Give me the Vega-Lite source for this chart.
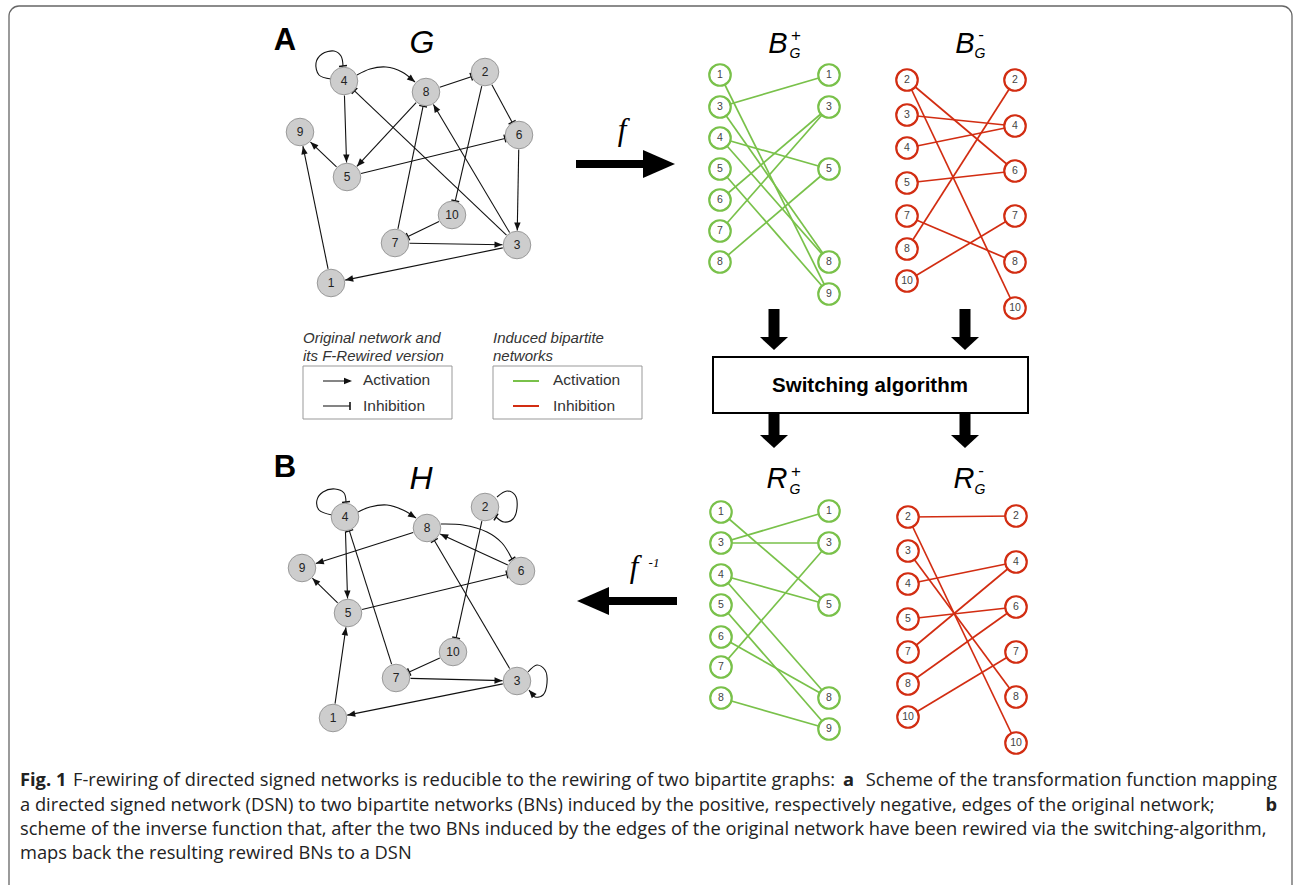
{
 "$schema": "https://vega.github.io/schema/vega-lite/v6.json",
 "width": 1294, "height": 885,
 "autosize": {"type": "fit", "contains": "padding"},
 "padding": 0,
 "background": "white",
 "config": {"view": {"stroke": null}},
 "datasets": {
  "nodes": [
   {"id":"G1","x":331,"y":283,"label":"1","kind":"net"},
   {"id":"G2","x":485,"y":72,"label":"2","kind":"net"},
   {"id":"G3","x":517,"y":245,"label":"3","kind":"net"},
   {"id":"G4","x":344,"y":81,"label":"4","kind":"net"},
   {"id":"G5","x":347,"y":177,"label":"5","kind":"net"},
   {"id":"G6","x":519,"y":135,"label":"6","kind":"net"},
   {"id":"G7","x":395,"y":243,"label":"7","kind":"net"},
   {"id":"G8","x":426,"y":92,"label":"8","kind":"net"},
   {"id":"G9","x":300,"y":132,"label":"9","kind":"net"},
   {"id":"G10","x":452,"y":215,"label":"10","kind":"net"},
   {"id":"H1","x":333,"y":718,"label":"1","kind":"net"},
   {"id":"H2","x":485,"y":507,"label":"2","kind":"net"},
   {"id":"H3","x":517,"y":681,"label":"3","kind":"net"},
   {"id":"H4","x":345,"y":517,"label":"4","kind":"net"},
   {"id":"H5","x":348,"y":613,"label":"5","kind":"net"},
   {"id":"H6","x":521,"y":571,"label":"6","kind":"net"},
   {"id":"H7","x":396,"y":678,"label":"7","kind":"net"},
   {"id":"H8","x":427,"y":528,"label":"8","kind":"net"},
   {"id":"H9","x":302,"y":568,"label":"9","kind":"net"},
   {"id":"H10","x":453,"y":652,"label":"10","kind":"net"},
   {"id":"BpL1","x":720,"y":75,"label":"1","kind":"pos"},
   {"id":"BpL3","x":720,"y":107,"label":"3","kind":"pos"},
   {"id":"BpL4","x":720,"y":138,"label":"4","kind":"pos"},
   {"id":"BpL5","x":720,"y":169,"label":"5","kind":"pos"},
   {"id":"BpL6","x":720,"y":200,"label":"6","kind":"pos"},
   {"id":"BpL7","x":720,"y":231,"label":"7","kind":"pos"},
   {"id":"BpL8","x":720,"y":262,"label":"8","kind":"pos"},
   {"id":"BpR1","x":829,"y":75,"label":"1","kind":"pos"},
   {"id":"BpR3","x":829,"y":107,"label":"3","kind":"pos"},
   {"id":"BpR5","x":829,"y":169,"label":"5","kind":"pos"},
   {"id":"BpR8","x":829,"y":262,"label":"8","kind":"pos"},
   {"id":"BpR9","x":829,"y":294,"label":"9","kind":"pos"},
   {"id":"BnL2","x":907,"y":80,"label":"2","kind":"neg"},
   {"id":"BnL3","x":907,"y":115,"label":"3","kind":"neg"},
   {"id":"BnL4","x":907,"y":148,"label":"4","kind":"neg"},
   {"id":"BnL5","x":907,"y":183,"label":"5","kind":"neg"},
   {"id":"BnL7","x":907,"y":216,"label":"7","kind":"neg"},
   {"id":"BnL8","x":907,"y":249,"label":"8","kind":"neg"},
   {"id":"BnL10","x":907,"y":281,"label":"10","kind":"neg"},
   {"id":"BnR2","x":1015,"y":80,"label":"2","kind":"neg"},
   {"id":"BnR4","x":1015,"y":126,"label":"4","kind":"neg"},
   {"id":"BnR6","x":1015,"y":171,"label":"6","kind":"neg"},
   {"id":"BnR7","x":1015,"y":216,"label":"7","kind":"neg"},
   {"id":"BnR8","x":1015,"y":262,"label":"8","kind":"neg"},
   {"id":"BnR10","x":1015,"y":308,"label":"10","kind":"neg"},
   {"id":"RpL1","x":721,"y":512,"label":"1","kind":"pos"},
   {"id":"RpL3","x":721,"y":543,"label":"3","kind":"pos"},
   {"id":"RpL4","x":721,"y":575,"label":"4","kind":"pos"},
   {"id":"RpL5","x":721,"y":605,"label":"5","kind":"pos"},
   {"id":"RpL6","x":721,"y":637,"label":"6","kind":"pos"},
   {"id":"RpL7","x":721,"y":667,"label":"7","kind":"pos"},
   {"id":"RpL8","x":721,"y":698,"label":"8","kind":"pos"},
   {"id":"RpR1","x":829,"y":511,"label":"1","kind":"pos"},
   {"id":"RpR3","x":829,"y":543,"label":"3","kind":"pos"},
   {"id":"RpR5","x":829,"y":605,"label":"5","kind":"pos"},
   {"id":"RpR8","x":829,"y":698,"label":"8","kind":"pos"},
   {"id":"RpR9","x":829,"y":729,"label":"9","kind":"pos"},
   {"id":"RnL2","x":908,"y":517,"label":"2","kind":"neg"},
   {"id":"RnL3","x":908,"y":551,"label":"3","kind":"neg"},
   {"id":"RnL4","x":908,"y":584,"label":"4","kind":"neg"},
   {"id":"RnL5","x":908,"y":619,"label":"5","kind":"neg"},
   {"id":"RnL7","x":908,"y":652,"label":"7","kind":"neg"},
   {"id":"RnL8","x":908,"y":684,"label":"8","kind":"neg"},
   {"id":"RnL10","x":908,"y":717,"label":"10","kind":"neg"},
   {"id":"RnR2","x":1016,"y":516,"label":"2","kind":"neg"},
   {"id":"RnR4","x":1016,"y":562,"label":"4","kind":"neg"},
   {"id":"RnR6","x":1016,"y":607,"label":"6","kind":"neg"},
   {"id":"RnR7","x":1016,"y":652,"label":"7","kind":"neg"},
   {"id":"RnR8","x":1016,"y":697,"label":"8","kind":"neg"},
   {"id":"RnR10","x":1016,"y":743,"label":"10","kind":"neg"}
  ],
  "edges": [
   {"s":"G4","t":"G5","kind":"act"},{"s":"G8","t":"G5","kind":"act"},{"s":"G5","t":"G9","kind":"act"},
   {"s":"G6","t":"G3","kind":"act"},{"s":"G7","t":"G3","kind":"act"},{"s":"G3","t":"G1","kind":"act"},
   {"s":"G1","t":"G9","kind":"act"},{"s":"G3","t":"G8","kind":"act"},
   {"s":"G8","t":"G2","kind":"inh"},{"s":"G2","t":"G6","kind":"inh"},{"s":"G2","t":"G10","kind":"inh"},
   {"s":"G5","t":"G6","kind":"inh"},{"s":"G3","t":"G4","kind":"inh"},{"s":"G7","t":"G8","kind":"inh"},
   {"s":"G10","t":"G7","kind":"inh"},
   {"s":"H4","t":"H5","kind":"act"},{"s":"H8","t":"H9","kind":"act"},{"s":"H5","t":"H9","kind":"act"},
   {"s":"H6","t":"H8","kind":"act"},{"s":"H7","t":"H3","kind":"act"},{"s":"H3","t":"H1","kind":"act"},
   {"s":"H1","t":"H5","kind":"act"},
   {"s":"H2","t":"H10","kind":"inh"},{"s":"H5","t":"H6","kind":"inh"},{"s":"H7","t":"H4","kind":"inh"},
   {"s":"H3","t":"H8","kind":"inh"},{"s":"H10","t":"H7","kind":"inh"},
   {"s":"BpL1","t":"BpR9","kind":"pos"},{"s":"BpL3","t":"BpR1","kind":"pos"},{"s":"BpL3","t":"BpR8","kind":"pos"},
   {"s":"BpL4","t":"BpR5","kind":"pos"},{"s":"BpL4","t":"BpR8","kind":"pos"},{"s":"BpL5","t":"BpR9","kind":"pos"},
   {"s":"BpL6","t":"BpR3","kind":"pos"},{"s":"BpL7","t":"BpR3","kind":"pos"},{"s":"BpL8","t":"BpR5","kind":"pos"},
   {"s":"BnL2","t":"BnR6","kind":"neg"},{"s":"BnL2","t":"BnR10","kind":"neg"},{"s":"BnL3","t":"BnR4","kind":"neg"},
   {"s":"BnL4","t":"BnR4","kind":"neg"},{"s":"BnL5","t":"BnR6","kind":"neg"},{"s":"BnL7","t":"BnR8","kind":"neg"},
   {"s":"BnL8","t":"BnR2","kind":"neg"},{"s":"BnL10","t":"BnR7","kind":"neg"},
   {"s":"RpL1","t":"RpR5","kind":"pos"},{"s":"RpL3","t":"RpR1","kind":"pos"},{"s":"RpL3","t":"RpR3","kind":"pos"},
   {"s":"RpL4","t":"RpR5","kind":"pos"},{"s":"RpL4","t":"RpR8","kind":"pos"},{"s":"RpL5","t":"RpR9","kind":"pos"},
   {"s":"RpL6","t":"RpR8","kind":"pos"},{"s":"RpL7","t":"RpR3","kind":"pos"},{"s":"RpL8","t":"RpR9","kind":"pos"},
   {"s":"RnL2","t":"RnR2","kind":"neg"},{"s":"RnL2","t":"RnR10","kind":"neg"},{"s":"RnL3","t":"RnR8","kind":"neg"},
   {"s":"RnL4","t":"RnR4","kind":"neg"},{"s":"RnL5","t":"RnR6","kind":"neg"},{"s":"RnL7","t":"RnR4","kind":"neg"},
   {"s":"RnL8","t":"RnR6","kind":"neg"},{"s":"RnL10","t":"RnR7","kind":"neg"}
  ],
  "curves": [
   {"c":"G4loop","o":1,"x":331,"y":79},{"c":"G4loop","o":2,"x":319,"y":75},{"c":"G4loop","o":3,"x":316,"y":63},
   {"c":"G4loop","o":4,"x":322,"y":54},{"c":"G4loop","o":5,"x":334,"y":51},{"c":"G4loop","o":6,"x":341,"y":56},
   {"c":"G4loop","o":7,"x":343,"y":66},
   {"c":"G48","o":1,"x":357,"y":75},{"c":"G48","o":2,"x":370,"y":69},{"c":"G48","o":3,"x":386,"y":67},
   {"c":"G48","o":4,"x":402,"y":72},{"c":"G48","o":5,"x":415,"y":82},
   {"c":"H4loop","o":1,"x":332,"y":515},{"c":"H4loop","o":2,"x":319,"y":510},{"c":"H4loop","o":3,"x":317,"y":500},
   {"c":"H4loop","o":4,"x":323,"y":492},{"c":"H4loop","o":5,"x":335,"y":489},{"c":"H4loop","o":6,"x":344,"y":493},
   {"c":"H4loop","o":7,"x":346,"y":502},
   {"c":"H48","o":1,"x":358,"y":512},{"c":"H48","o":2,"x":370,"y":507},{"c":"H48","o":3,"x":387,"y":505},
   {"c":"H48","o":4,"x":403,"y":510},{"c":"H48","o":5,"x":416,"y":518},
   {"c":"H86","o":1,"x":441,"y":524},{"c":"H86","o":2,"x":463,"y":525},{"c":"H86","o":3,"x":487,"y":532},
   {"c":"H86","o":4,"x":502,"y":543},{"c":"H86","o":5,"x":512,"y":559},
   {"c":"H2loop","o":1,"x":497,"y":497},{"c":"H2loop","o":2,"x":507,"y":491},{"c":"H2loop","o":3,"x":515,"y":495},
   {"c":"H2loop","o":4,"x":517,"y":508},{"c":"H2loop","o":5,"x":513,"y":519},{"c":"H2loop","o":6,"x":504,"y":522},
   {"c":"H2loop","o":7,"x":496,"y":517},
   {"c":"H3loop","o":1,"x":528,"y":672},{"c":"H3loop","o":2,"x":537,"y":665},{"c":"H3loop","o":3,"x":545,"y":670},
   {"c":"H3loop","o":4,"x":547,"y":683},{"c":"H3loop","o":5,"x":543,"y":695},{"c":"H3loop","o":6,"x":535,"y":697},
   {"c":"H3loop","o":7,"x":529,"y":690}
  ],
  "ends": [
   {"x":343,"y":66,"px":342,"py":57,"kind":"inh"},
   {"x":415,"y":82,"px":404,"py":73,"kind":"act"},
   {"x":346,"y":502,"px":345,"py":493,"kind":"inh"},
   {"x":416,"y":518,"px":405,"py":511,"kind":"act"},
   {"x":512,"y":559,"px":503,"py":545,"kind":"inh"},
   {"x":496,"y":517,"px":503,"py":521,"kind":"inh"},
   {"x":529,"y":690,"px":535,"py":697,"kind":"act"},
   {"x":352,"y":381,"px":340,"py":381,"kind":"act"},
   {"x":350,"y":406,"px":340,"py":406,"kind":"inh"}
  ],
  "segs": [
   {"x":323,"y":381,"x2":350,"y2":381,"kind":"blk"},
   {"x":323,"y":406,"x2":350,"y2":406,"kind":"blk"},
   {"x":513,"y":381,"x2":539,"y2":381,"kind":"pos"},
   {"x":513,"y":406,"x2":539,"y2":406,"kind":"neg"},
   {"x":576,"y":164,"x2":645,"y2":164,"kind":"hs"},
   {"x":607,"y":601,"x2":677,"y2":601,"kind":"hs"},
   {"x":774,"y":309,"x2":774,"y2":338,"kind":"vs"},
   {"x":965,"y":309,"x2":965,"y2":338,"kind":"vs"},
   {"x":774,"y":413,"x2":774,"y2":437,"kind":"vs"},
   {"x":965,"y":413,"x2":965,"y2":437,"kind":"vs"}
  ],
  "bigheads": [
   {"x":675,"y":164,"px":645,"py":164,"o":"h"},
   {"x":577,"y":601,"px":607,"py":601,"o":"h"},
   {"x":774,"y":350,"px":774,"py":338,"o":"v"},
   {"x":965,"y":350,"px":965,"py":338,"o":"v"},
   {"x":774,"y":448,"px":774,"py":437,"o":"v"},
   {"x":965,"y":448,"px":965,"py":437,"o":"v"}
  ],
  "boxes": [
   {"x":9,"y":6,"x2":1292,"y2":900,"b":"frame"},
   {"x":303,"y":366,"x2":452,"y2":419,"b":"leg"},
   {"x":493,"y":366,"x2":642,"y2":419,"b":"leg"},
   {"x":713,"y":357,"x2":1028,"y2":413,"b":"sw"}
  ],
  "texts": [
   {"t":"A","x":285,"y":50,"s":"panel"},
   {"t":"B","x":285,"y":477,"s":"panel"},
   {"t":"G","x":422,"y":53,"s":"ttl"},
   {"t":"H","x":421,"y":489,"s":"ttl"},
   {"t":"B","x":778,"y":53,"s":"bpm"},
   {"t":"B","x":965,"y":53,"s":"bpm"},
   {"t":"R","x":777,"y":488,"s":"bpm"},
   {"t":"R","x":964,"y":488,"s":"bpm"},
   {"t":"+","x":796,"y":36,"s":"bpsup"},
   {"t":"-","x":981,"y":35,"s":"bpsup"},
   {"t":"+","x":796,"y":472,"s":"bpsup"},
   {"t":"-","x":981,"y":471,"s":"bpsup"},
   {"t":"G","x":795,"y":58,"s":"bpsub"},
   {"t":"G","x":980,"y":58,"s":"bpsub"},
   {"t":"G","x":795,"y":494,"s":"bpsub"},
   {"t":"G","x":980,"y":494,"s":"bpsub"},
   {"t":"f","x":622,"y":140,"s":"fn"},
   {"t":"f","x":634,"y":577,"s":"fn"},
   {"t":"-1","x":654,"y":563,"s":"fsup"},
   {"t":"Switching algorithm","x":870,"y":392,"s":"sw"},
   {"t":"Original network and","x":303,"y":343,"s":"lh"},
   {"t":"its F-Rewired version","x":303,"y":361,"s":"lh"},
   {"t":"Induced bipartite","x":493,"y":343,"s":"lh"},
   {"t":"networks","x":493,"y":361,"s":"lh"},
   {"t":"Activation","x":363,"y":385,"s":"li"},
   {"t":"Inhibition","x":363,"y":411,"s":"li"},
   {"t":"Activation","x":553,"y":385,"s":"li"},
   {"t":"Inhibition","x":553,"y":411,"s":"li"},
   {"t":"Fig. 1","x":20,"y":781,"s":"capb"},
   {"t":"F-rewiring of directed signed networks is reducible to the rewiring of two bipartite graphs:","x":73,"y":781,"s":"cap"},
   {"t":"a","x":843,"y":781,"s":"capb"},
   {"t":"Scheme of the transformation function mapping","x":1277,"y":781,"s":"capr"},
   {"t":"a directed signed network (DSN) to two bipartite networks (BNs) induced by the positive, respectively negative, edges of the original network;","x":20,"y":806,"s":"cap"},
   {"t":"b","x":1277,"y":806,"s":"capbr"},
   {"t":"scheme of the inverse function that, after the two BNs induced by the edges of the original network have been rewired via the switching-algorithm,","x":20,"y":830,"s":"cap"},
   {"t":"maps back the resulting rewired BNs to a DSN","x":20,"y":854,"s":"cap"}
  ]
 },
 "encoding": {
  "x": {"field":"x","type":"quantitative","scale":{"domain":[0,1294],"nice":false,"zero":false},"axis":null},
  "y": {"field":"y","type":"quantitative","scale":{"domain":[0,885],"nice":false,"zero":false,"reverse":true},"axis":null}
 },
 "layer": [
  {"data":{"name":"boxes"},"transform":[{"filter":"datum.b==='frame'"}],
   "mark":{"type":"rect","filled":false,"color":"#666","strokeWidth":1.3,"cornerRadius":10,"clip":true},
   "encoding":{"x2":{"field":"x2"},"y2":{"field":"y2"}}},
  {"data":{"name":"boxes"},"transform":[{"filter":"datum.b==='leg'"}],
   "mark":{"type":"rect","filled":false,"color":"#999","strokeWidth":1},
   "encoding":{"x2":{"field":"x2"},"y2":{"field":"y2"}}},
  {"data":{"name":"boxes"},"transform":[{"filter":"datum.b==='sw'"}],
   "mark":{"type":"rect","fill":"white","stroke":"#000","strokeWidth":2},
   "encoding":{"x2":{"field":"x2"},"y2":{"field":"y2"}}},
  {"data":{"name":"edges"},
   "transform":[
    {"filter":"datum.kind==='act'||datum.kind==='inh'"},
    {"lookup":"s","from":{"data":{"name":"nodes"},"key":"id","fields":["x","y"]},"as":["sx","sy"]},
    {"lookup":"t","from":{"data":{"name":"nodes"},"key":"id","fields":["x","y"]},"as":["tx","ty"]},
    {"calculate":"sqrt(pow(datum.tx-datum.sx,2)+pow(datum.ty-datum.sy,2))","as":"d"},
    {"calculate":"(datum.tx-datum.sx)/datum.d","as":"ux"},
    {"calculate":"(datum.ty-datum.sy)/datum.d","as":"uy"},
    {"calculate":"datum.sx+14.5*datum.ux","as":"x"},
    {"calculate":"datum.sy+14.5*datum.uy","as":"y"},
    {"calculate":"datum.tx-14.5*datum.ux","as":"x2"},
    {"calculate":"datum.ty-14.5*datum.uy","as":"y2"}
   ],
   "mark":{"type":"rule","color":"#111","strokeWidth":1.1},
   "encoding":{"x2":{"field":"x2"},"y2":{"field":"y2"}}},
  {"data":{"name":"curves"},
   "mark":{"type":"line","interpolate":"catmull-rom","color":"#111","strokeWidth":1.1},
   "encoding":{"detail":{"field":"c"},"order":{"field":"o","type":"quantitative"}}},
  {"data":{"name":"segs"},"transform":[{"filter":"datum.kind==='blk'"}],
   "mark":{"type":"rule","color":"#333","strokeWidth":1.2},
   "encoding":{"x2":{"field":"x2"},"y2":{"field":"y2"}}},
  {"data":{"name":"edges"},
   "transform":[
    {"filter":"datum.kind==='pos'||datum.kind==='neg'"},
    {"lookup":"s","from":{"data":{"name":"nodes"},"key":"id","fields":["x","y"]},"as":["x","y"]},
    {"lookup":"t","from":{"data":{"name":"nodes"},"key":"id","fields":["x","y"]},"as":["x2","y2"]}
   ],
   "mark":{"type":"rule","strokeWidth":1.7},
   "encoding":{"x2":{"field":"x2"},"y2":{"field":"y2"},
    "color":{"field":"kind","type":"nominal","scale":{"domain":["pos","neg"],"range":["#79c14a","#d22d12"]},"legend":null}}},
  {"data":{"name":"segs"},"transform":[{"filter":"datum.kind==='pos'||datum.kind==='neg'"}],
   "mark":{"type":"rule","strokeWidth":2},
   "encoding":{"x2":{"field":"x2"},"y2":{"field":"y2"},
    "color":{"field":"kind","type":"nominal","scale":{"domain":["pos","neg"],"range":["#79c14a","#d22d12"]},"legend":null}}},
  {"data":{"name":"segs"},"transform":[{"filter":"datum.kind==='hs'"}],
   "mark":{"type":"rule","color":"#000","strokeWidth":8},
   "encoding":{"x2":{"field":"x2"},"y2":{"field":"y2"}}},
  {"data":{"name":"segs"},"transform":[{"filter":"datum.kind==='vs'"}],
   "mark":{"type":"rule","color":"#000","strokeWidth":11},
   "encoding":{"x2":{"field":"x2"},"y2":{"field":"y2"}}},
  {"data":{"name":"edges"},
   "transform":[
    {"filter":"datum.kind==='act'"},
    {"lookup":"s","from":{"data":{"name":"nodes"},"key":"id","fields":["x","y"]},"as":["sx","sy"]},
    {"lookup":"t","from":{"data":{"name":"nodes"},"key":"id","fields":["x","y"]},"as":["tx","ty"]},
    {"calculate":"sqrt(pow(datum.tx-datum.sx,2)+pow(datum.ty-datum.sy,2))","as":"d"},
    {"calculate":"(datum.tx-datum.sx)/datum.d","as":"ux"},
    {"calculate":"(datum.ty-datum.sy)/datum.d","as":"uy"},
    {"calculate":"datum.tx-14.5*datum.ux","as":"x"},
    {"calculate":"datum.ty-14.5*datum.uy","as":"y"},
    {"calculate":"atan2(datum.uy,datum.ux)*180/PI","as":"ang"}
   ],
   "mark":{"type":"point","shape":"M0,0L-2,-0.8L-2,0.8Z","size":64,"filled":true,"color":"#111","opacity":1,"strokeWidth":0},
   "encoding":{"angle":{"field":"ang","type":"quantitative","scale":null}}},
  {"data":{"name":"edges"},
   "transform":[
    {"filter":"datum.kind==='inh'"},
    {"lookup":"s","from":{"data":{"name":"nodes"},"key":"id","fields":["x","y"]},"as":["sx","sy"]},
    {"lookup":"t","from":{"data":{"name":"nodes"},"key":"id","fields":["x","y"]},"as":["tx","ty"]},
    {"calculate":"sqrt(pow(datum.tx-datum.sx,2)+pow(datum.ty-datum.sy,2))","as":"d"},
    {"calculate":"(datum.tx-datum.sx)/datum.d","as":"ux"},
    {"calculate":"(datum.ty-datum.sy)/datum.d","as":"uy"},
    {"calculate":"datum.tx-14.5*datum.ux","as":"x"},
    {"calculate":"datum.ty-14.5*datum.uy","as":"y"},
    {"calculate":"atan2(datum.uy,datum.ux)*180/PI","as":"ang"}
   ],
   "mark":{"type":"point","shape":"M0,-1L0,1","size":64,"filled":false,"color":"#111","opacity":1,"strokeWidth":1.4},
   "encoding":{"angle":{"field":"ang","type":"quantitative","scale":null}}},
  {"data":{"name":"ends"},
   "transform":[{"filter":"datum.kind==='act'"},{"calculate":"atan2(datum.y-datum.py,datum.x-datum.px)*180/PI","as":"ang"}],
   "mark":{"type":"point","shape":"M0,0L-2,-0.8L-2,0.8Z","size":64,"filled":true,"color":"#111","opacity":1,"strokeWidth":0},
   "encoding":{"angle":{"field":"ang","type":"quantitative","scale":null}}},
  {"data":{"name":"ends"},
   "transform":[{"filter":"datum.kind==='inh'"},{"calculate":"atan2(datum.y-datum.py,datum.x-datum.px)*180/PI","as":"ang"}],
   "mark":{"type":"point","shape":"M0,-1L0,1","size":64,"filled":false,"color":"#111","opacity":1,"strokeWidth":1.6},
   "encoding":{"angle":{"field":"ang","type":"quantitative","scale":null}}},
  {"data":{"name":"bigheads"},
   "transform":[{"filter":"datum.o==='h'"},{"calculate":"atan2(datum.y-datum.py,datum.x-datum.px)*180/PI","as":"ang"}],
   "mark":{"type":"point","shape":"M0,0L-2,-0.875L-2,0.875Z","size":1024,"filled":true,"color":"#000","opacity":1,"strokeWidth":0},
   "encoding":{"angle":{"field":"ang","type":"quantitative","scale":null}}},
  {"data":{"name":"bigheads"},
   "transform":[{"filter":"datum.o==='v'"},{"calculate":"atan2(datum.y-datum.py,datum.x-datum.px)*180/PI","as":"ang"}],
   "mark":{"type":"point","shape":"M0,0L-1,-1.08L-1,1.08Z","size":676,"filled":true,"color":"#000","opacity":1,"strokeWidth":0},
   "encoding":{"angle":{"field":"ang","type":"quantitative","scale":null}}},
  {"data":{"name":"nodes"},"transform":[{"filter":"datum.kind==='net'"}],
   "mark":{"type":"point","shape":"circle","size":760,"filled":true,"fill":"#cdcdcd","stroke":"#9a9a9a","strokeWidth":1,"opacity":1}},
  {"data":{"name":"nodes"},"transform":[{"filter":"datum.kind==='net'"}],
   "mark":{"type":"text","font":"Liberation Sans","fontSize":12,"align":"center","baseline":"middle","color":"#222"},
   "encoding":{"text":{"field":"label"}}},
  {"data":{"name":"nodes"},"transform":[{"filter":"datum.kind!=='net'"}],
   "mark":{"type":"point","shape":"circle","size":462,"filled":true,"fill":"white","strokeWidth":2.2,"opacity":1},
   "encoding":{"stroke":{"field":"kind","type":"nominal","scale":{"domain":["pos","neg"],"range":["#79c14a","#d22d12"]},"legend":null}}},
  {"data":{"name":"nodes"},"transform":[{"filter":"datum.kind!=='net'"}],
   "mark":{"type":"text","font":"Liberation Sans","fontSize":10.5,"align":"center","baseline":"middle","color":"#444"},
   "encoding":{"text":{"field":"label"}}},
  {"data":{"name":"texts"},"transform":[{"filter":"datum.s==='panel'"}],
   "mark":{"type":"text","font":"Liberation Sans","fontWeight":"bold","fontSize":31,"align":"center","baseline":"alphabetic","color":"#000"},
   "encoding":{"text":{"field":"t"}}},
  {"data":{"name":"texts"},"transform":[{"filter":"datum.s==='ttl'"}],
   "mark":{"type":"text","font":"Liberation Sans","fontStyle":"italic","fontSize":32,"align":"center","baseline":"alphabetic","color":"#000"},
   "encoding":{"text":{"field":"t"}}},
  {"data":{"name":"texts"},"transform":[{"filter":"datum.s==='bpm'"}],
   "mark":{"type":"text","font":"Liberation Sans","fontStyle":"italic","fontSize":29,"align":"center","baseline":"alphabetic","color":"#000"},
   "encoding":{"text":{"field":"t"}}},
  {"data":{"name":"texts"},"transform":[{"filter":"datum.s==='bpsup'"}],
   "mark":{"type":"text","font":"Liberation Sans","fontSize":17,"align":"center","baseline":"middle","color":"#000"},
   "encoding":{"text":{"field":"t"}}},
  {"data":{"name":"texts"},"transform":[{"filter":"datum.s==='bpsub'"}],
   "mark":{"type":"text","font":"Liberation Sans","fontStyle":"italic","fontSize":14,"align":"center","baseline":"alphabetic","color":"#000"},
   "encoding":{"text":{"field":"t"}}},
  {"data":{"name":"texts"},"transform":[{"filter":"datum.s==='fn'"}],
   "mark":{"type":"text","font":"Liberation Serif","fontStyle":"italic","fontSize":31,"align":"center","baseline":"alphabetic","color":"#000"},
   "encoding":{"text":{"field":"t"}}},
  {"data":{"name":"texts"},"transform":[{"filter":"datum.s==='fsup'"}],
   "mark":{"type":"text","font":"Liberation Serif","fontStyle":"italic","fontSize":13,"align":"center","baseline":"middle","color":"#000"},
   "encoding":{"text":{"field":"t"}}},
  {"data":{"name":"texts"},"transform":[{"filter":"datum.s==='sw'"}],
   "mark":{"type":"text","font":"Liberation Sans","fontWeight":"bold","fontSize":20.5,"align":"center","baseline":"alphabetic","color":"#000"},
   "encoding":{"text":{"field":"t"}}},
  {"data":{"name":"texts"},"transform":[{"filter":"datum.s==='lh'"}],
   "mark":{"type":"text","font":"Liberation Sans","fontStyle":"italic","fontSize":15,"align":"left","baseline":"alphabetic","color":"#333"},
   "encoding":{"text":{"field":"t"}}},
  {"data":{"name":"texts"},"transform":[{"filter":"datum.s==='li'"}],
   "mark":{"type":"text","font":"Liberation Sans","fontSize":15.5,"align":"left","baseline":"alphabetic","color":"#333"},
   "encoding":{"text":{"field":"t"}}},
  {"data":{"name":"texts"},"transform":[{"filter":"datum.s==='cap'"}],
   "mark":{"type":"text","font":"Open Sans","fontSize":18.3,"align":"left","baseline":"middle","color":"#222"},
   "encoding":{"text":{"field":"t"}}},
  {"data":{"name":"texts"},"transform":[{"filter":"datum.s==='capr'"}],
   "mark":{"type":"text","font":"Open Sans","fontSize":18.3,"align":"right","baseline":"middle","color":"#222"},
   "encoding":{"text":{"field":"t"}}},
  {"data":{"name":"texts"},"transform":[{"filter":"datum.s==='capb'"}],
   "mark":{"type":"text","font":"Open Sans","fontWeight":"bold","fontSize":18.3,"align":"left","baseline":"middle","color":"#222"},
   "encoding":{"text":{"field":"t"}}},
  {"data":{"name":"texts"},"transform":[{"filter":"datum.s==='capbr'"}],
   "mark":{"type":"text","font":"Open Sans","fontWeight":"bold","fontSize":18.3,"align":"right","baseline":"middle","color":"#222"},
   "encoding":{"text":{"field":"t"}}}
 ]
}
